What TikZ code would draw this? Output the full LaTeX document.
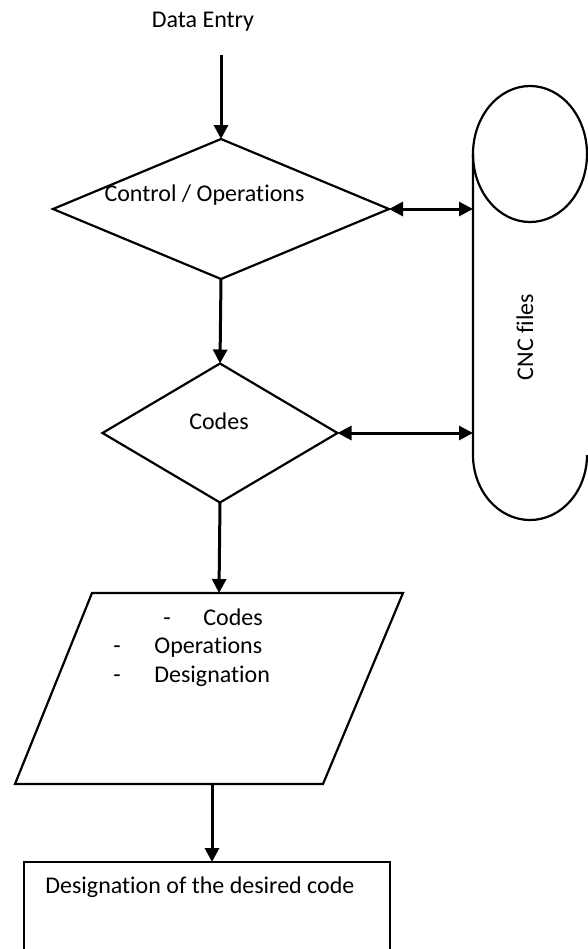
\documentclass[tikz,border=0pt]{standalone}
\usepackage{fontspec}
\setmainfont[Ligatures={NoCommon}]{Carlito}
\usetikzlibrary{arrows.meta,shapes.geometric}
\begin{document}
\begin{tikzpicture}[x=0.5pt,y=-0.5pt,
  outline/.style={draw=black,line width=1.1pt},
  flow/.style={line width=1.5pt,-{Triangle[length=7pt,width=7pt]}},
  twoway/.style={line width=1.5pt,{Triangle[length=7pt,width=7pt]}-{Triangle[length=7pt,width=7pt]}},
  lbl/.style={font=\fontsize{12}{14}\selectfont,inner sep=0pt},
  dia/.style={outline,diamond,inner sep=0pt,outer sep=0pt}]
\useasboundingbox (0,0) rectangle (588,949);
\clip (0,0) rectangle (588,949);

% title
\node[lbl] (entry) at (203,22) {Data Entry};
\coordinate (entrystart) at (221,55);

% diamonds
\node[dia,minimum width=168pt,minimum height=70pt] (d1) at (221,209) {};
\node[lbl] (t1) at (204.5,195) {Control / Operations};
\node[dia,minimum width=117.5pt,minimum height=69.5pt] (d2) at (220,433) {};
\node[lbl] (t2) at (219,421) {Codes};

% storage (CNC files)
\draw[outline] (530,154) ellipse [x radius=57,y radius=68];
\draw[outline] (473,154) -- (473,455)
  .. controls (473,490.9) and (498.5,520) .. (530,520)
  .. controls (561.5,520) and (587,490.9) .. (587,455);
\coordinate (s1) at (473,209);
\coordinate (s2) at (473,433);
\node[lbl,rotate=90] (cnc) at (525,337) {CNC files};

% parallelogram
\coordinate (pTL) at (92,593);
\coordinate (pTR) at (403,593);
\coordinate (pBR) at (323,784);
\coordinate (pBL) at (15,784);
\draw[outline] (pTL) -- (pTR) -- (pBR) -- (pBL) -- cycle;
\coordinate (ptop) at (219,593);
\coordinate (pbot) at (212,784);
\node[lbl,anchor=base west] (l1a) at (163,625) {-};
\node[lbl,anchor=base west] (l1b) at (203,625) {Codes};
\node[lbl,anchor=base west] (l2a) at (113,653) {-};
\node[lbl,anchor=base west] (l2b) at (154,653) {Operations};
\node[lbl,anchor=base west] (l3a) at (113,682) {-};
\node[lbl,anchor=base west] (l3b) at (154,682) {Designation};

% result box
\draw[outline] (24,862) rectangle (390,960);
\coordinate (rtop) at (212,862);
\node[lbl,anchor=base west] (res) at (45,893) {Designation of the desired code};

% connectors
\draw[flow] (entrystart) -- (d1.north);
\draw[flow] (d1.south) -- (d2.north);
\draw[twoway] (d1.east) -- (s1);
\draw[twoway] (d2.east) -- (s2);
\draw[flow] (d2.south) -- (ptop);
\draw[flow] (pbot) -- (rtop);
\end{tikzpicture}
\end{document}
